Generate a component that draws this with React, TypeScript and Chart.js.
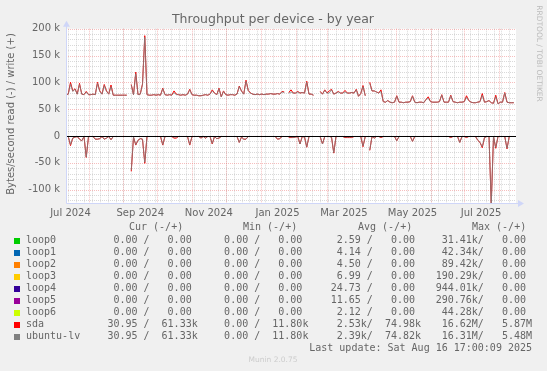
import React, { useEffect, useRef } from 'react';
import { Chart, registerables } from 'chart.js';

Chart.register(...registerables);

// ---------- texts ----------
const TITLE = 'Throughput per device - by year';
const Y_TITLE = 'Bytes/second read (-) / write (+)';
const WATERMARK = 'RRDTOOL / TOBI OETIKER';
const FOOTER = 'Munin 2.0.75';
const LAST_UPDATE = 'Last update: Sat Aug 16 17:00:09 2025';
const HEADERS = ['Cur (-/+)', 'Min (-/+)', 'Avg (-/+)', 'Max (-/+)'];

// ---------- time axis (days counted from 2024-07-12, graph start) ----------
const RANGE_DAYS = 400;
const STEP_DAYS = 2;
const FIRST_SUNDAY_DAY = 2;
const monthStartDays = [20, 51, 81, 112, 142, 173, 204, 232, 263, 293, 324, 354, 385];
const xLabelDays = [4, 66, 127, 188, 247, 308, 369];
const xLabels = ['Jul 2024', 'Sep 2024', 'Nov 2024', 'Jan 2025', 'Mar 2025', 'May 2025', 'Jul 2025'];

// ---------- value axis (k bytes/s) ----------
const Y_MIN = -125;
const Y_MAX = 200;
const yLabelTicks = [-100, -50, 0, 50, 100, 150, 200];

// ---------- series, one value per 2 days, k bytes/s ----------
const sdaWrite = [
  77, 78, 100, 84, 88, 78, 98, 78, 77, 83,
  77, 77, 78, 77, 100, 84, 78, 96, 84, 78,
  95, 76, 76, 76, 76, 76, 76, 76, null, 96,
  77, 119, 77, 78, 97, 187, 77, 76, 76, 77,
  76, 77, 76, 89, 77, 76, 77, 76, 84, 78,
  77, 76, 77, 76, 78, 87, 77, 76, 76, 75,
  75, 76, 77, 76, 78, 86, 80, 77, 89, 73,
  84, 77, 76, 77, 77, 76, 78, 93, 84, 78,
  104, 85, 80, 78, 77, 78, 77, 78, 77, 78,
  78, 79, 78, 78, 79, 78, 83, 82, null, 81,
  86, 80, 80, 83, 80, 81, 80, 102, 78, 78,
  76, null, null, 83, 78, 86, 80, 84, 87, 78,
  80, 83, 80, 80, 85, 80, 80, 81, 80, 87,
  74, 79, 94, 75, null, 100, 84, 84, 82, 80,
  86, 64, 63, 66, 63, 62, 63, 75, 63, 63,
  62, 63, 63, 64, 75, 63, 62, 63, 63, 62,
  68, 73, 64, 63, 63, 63, 64, 77, 63, 63,
  63, 76, 64, 63, 62, 63, 63, 64, 75, 66,
  63, 62, 62, 63, 64, 79, 63, 64, 66, 62,
  61, 76, 60, 63, 63, 81, 63, 62, 62, 62,
];

const lvWrite = [
  77, 78, 97, 83, 87, 78, 96, 78, 77, 82,
  77, 77, 78, 77, 98, 83, 78, 94, 83, 78,
  92, 76, 76, 76, 76, 76, 76, 76, null, 95,
  77, 116, 77, 78, 96, 184, 77, 76, 76, 77,
  76, 77, 76, 88, 77, 76, 77, 76, 81, 77,
  77, 76, 77, 76, 78, 86, 77, 76, 76, 75,
  75, 76, 77, 76, 78, 84, 80, 77, 88, 73,
  83, 77, 76, 77, 77, 76, 78, 92, 83, 78,
  102, 84, 80, 78, 77, 78, 77, 78, 77, 78,
  78, 79, 78, 78, 79, 78, 82, 81, null, 80,
  82, 80, 80, 82, 80, 81, 80, 100, 78, 78,
  76, null, null, 82, 78, 85, 80, 80, 86, 78,
  80, 82, 80, 80, 82, 80, 80, 81, 80, 86,
  74, 79, 92, 75, null, 98, 84, 84, 82, 80,
  83, 64, 63, 66, 63, 62, 63, 74, 63, 63,
  62, 63, 63, 64, 74, 63, 62, 63, 63, 62,
  68, 70, 64, 63, 63, 63, 64, 76, 63, 63,
  63, 75, 64, 63, 62, 63, 63, 64, 72, 66,
  63, 62, 62, 63, 64, 76, 63, 64, 66, 62,
  61, 73, 60, 63, 63, 80, 63, 62, 62, 62,
];

const sdaRead = [
  -1, -1, -18, -4, -2, -1, -6, -9, -1, -40,
  -1, -1, -1, -6, -6, -5, -1, -6, -4, -1,
  -7, -1, -1, -1, -1, -1, -1, -1, null, -66,
  -2, -17, -8, -5, -6, -51, -1, -1, -1, -1,
  -1, -1, -1, -17, -1, -1, -1, -1, -4, -4,
  -1, -1, -1, -1, -1, -17, -1, -1, -1, -1,
  -4, -1, -4, -1, -1, -15, -1, -5, -4, -1,
  -1, -1, -1, -1, -1, -1, -1, -12, -2, -6,
  -6, -1, -1, -1, -1, -1, -1, -1, -1, -1,
  -1, -1, -1, -1, -6, -5, -1, -1, null, -3,
  -3, -3, -2, -1, -15, -1, -2, -21, -1, -1,
  -1, null, null, -2, -15, -1, -1, -1, -2, -32,
  -1, -1, -1, -1, -3, -3, -3, -3, -1, -1,
  -1, -1, -20, -1, null, -27, -1, -4, -1, -1,
  -3, -1, -1, -1, -1, -1, -1, -9, -1, -1,
  -1, -1, -1, -1, -10, -1, -1, -1, -1, -1,
  -1, -1, -1, -1, -1, -1, -1, -1, -1, -1,
  -1, -3, -1, -1, -1, -12, -1, -1, -3, -1,
  -1, -1, -1, -8, -12, -22, -3, -1, -1, -127,
  -1, -23, -1, -1, -1, -1, -24, -1, -1, -1,
];

const lvRead = [
  -1, -1, -16, -4, -2, -1, -6, -9, -1, -39,
  -1, -1, -1, -6, -6, -5, -1, -6, -4, -1,
  -7, -1, -1, -1, -1, -1, -1, -1, null, -64,
  -2, -16, -8, -5, -6, -49, -1, -1, -1, -1,
  -1, -1, -1, -16, -1, -1, -1, -1, -2, -2,
  -1, -1, -1, -1, -1, -16, -1, -1, -1, -1,
  -4, -1, -4, -1, -1, -14, -1, -5, -4, -1,
  -1, -1, -1, -1, -1, -1, -1, -12, -2, -6,
  -6, -1, -1, -1, -1, -1, -1, -1, -1, -1,
  -1, -1, -1, -1, -6, -5, -1, -1, null, -2,
  -2, -3, -2, -1, -15, -1, -2, -20, -1, -1,
  -1, null, null, -2, -15, -1, -1, -1, -2, -31,
  -1, -1, -1, -1, -2, -2, -2, -2, -1, -1,
  -1, -1, -19, -1, null, -26, -1, -4, -1, -1,
  -2, -1, -1, -1, -1, -1, -1, -9, -1, -1,
  -1, -1, -1, -1, -10, -1, -1, -1, -1, -1,
  -1, -1, -1, -1, -1, -1, -1, -1, -1, -1,
  -1, -2, -1, -1, -1, -12, -1, -1, -2, -1,
  -1, -1, -1, -8, -12, -20, -3, -1, -1, -127,
  -1, -21, -1, -1, -1, -1, -23, -1, -1, -1,
];

// ---------- legend table (bytes/s) ----------
const devices = ['loop0', 'loop1', 'loop2', 'loop3', 'loop4', 'loop5', 'loop6', 'sda', 'ubuntu-lv'];
const deviceColors = ['#00CC00', '#0066B3', '#FF8000', '#FFCC00', '#330099', '#990099', '#CCFF00', '#FF0000', '#808080'];
const curRead = [0, 0, 0, 0, 0, 0, 0, 30.95, 30.95];
const curWrite = [0, 0, 0, 0, 0, 0, 0, 61330, 61330];
const minRead = [0, 0, 0, 0, 0, 0, 0, 0, 0];
const minWrite = [0, 0, 0, 0, 0, 0, 0, 11800, 11800];
const avgRead = [2.59, 4.14, 4.5, 6.99, 24.73, 11.65, 2.12, 2530, 2390];
const avgWrite = [0, 0, 0, 0, 0, 0, 0, 74980, 74820];
const maxRead = [31410, 42340, 89420, 190290, 944010, 290760, 44280, 16620000, 16310000];
const maxWrite = [0, 0, 0, 0, 0, 0, 0, 5870000, 5480000];

// ---------- styling ----------
const FONT_COLOR = '#666666';
const AXIS_COLOR = '#CFD6F8';
const MINOR_GRID = 'rgba(170,170,170,0.45)';
const MAJOR_GRID = 'rgba(235,110,110,0.45)';
const SANS = '"DejaVu Sans", sans-serif';
const MONO = '"DejaVu Sans Mono", monospace';

const toPoints = (vals: (number | null)[]) => vals.map((v, i) => ({ x: i * STEP_DAYS, y: v }));

const fmt = (v: number) => {
  let num = v;
  let suf = ' ';
  if (Math.abs(v) >= 1e6) { num = v / 1e6; suf = 'M'; }
  else if (Math.abs(v) >= 1e3) { num = v / 1e3; suf = 'k'; }
  return num.toFixed(2).padStart(7, ' ') + suf;
};
const seg = (r: number, w: number) => fmt(r) + '/' + fmt(w);

const muninPlugin = {
  id: 'muninDecor',
  beforeDraw(chart: any) {
    const { ctx, chartArea: a, width, height } = chart;
    const xs = chart.scales.x;
    const ys = chart.scales.y;
    ctx.save();
    ctx.fillStyle = '#F0F0F0';
    ctx.fillRect(0, 0, width, height);
    ctx.fillStyle = '#FFFFFF';
    ctx.fillRect(a.left, a.top, a.right - a.left, a.bottom - a.top);

    ctx.lineWidth = 1;
    ctx.setLineDash([1, 1]);
    const hline = (v: number) => {
      const y = Math.round(ys.getPixelForValue(v)) + 0.5;
      ctx.beginPath(); ctx.moveTo(a.left, y); ctx.lineTo(a.right, y); ctx.stroke();
    };
    const vline = (d: number) => {
      const x = Math.round(xs.getPixelForValue(d)) + 0.5;
      ctx.beginPath(); ctx.moveTo(x, a.top); ctx.lineTo(x, a.bottom); ctx.stroke();
    };
    ctx.strokeStyle = MINOR_GRID;
    for (let v = -120; v <= Y_MAX; v += 10) if (v % 50 !== 0) hline(v);
    for (let d = FIRST_SUNDAY_DAY; d < RANGE_DAYS; d += 7) vline(d);
    ctx.strokeStyle = MAJOR_GRID;
    for (const v of yLabelTicks) hline(v);
    for (const d of monthStartDays) vline(d);
    ctx.restore();
  },
  afterDatasetsDraw(chart: any) {
    const { ctx, chartArea: a } = chart;
    const ys = chart.scales.y;
    ctx.save();
    const y0 = Math.round(ys.getPixelForValue(0)) + 0.5;
    ctx.strokeStyle = '#000000';
    ctx.lineWidth = 1;
    ctx.beginPath(); ctx.moveTo(a.left, y0); ctx.lineTo(a.right, y0); ctx.stroke();
    ctx.strokeStyle = AXIS_COLOR;
    ctx.fillStyle = AXIS_COLOR;
    const bx = Math.round(a.left) + 0.5;
    const by = Math.round(a.bottom) + 0.5;
    ctx.beginPath(); ctx.moveTo(bx, by); ctx.lineTo(a.right + 3, by); ctx.stroke();
    ctx.beginPath(); ctx.moveTo(bx, by); ctx.lineTo(bx, a.top - 3); ctx.stroke();
    ctx.beginPath();
    ctx.moveTo(a.right + 2, by - 3.5); ctx.lineTo(a.right + 8, by); ctx.lineTo(a.right + 2, by + 3.5);
    ctx.closePath(); ctx.fill();
    ctx.beginPath();
    ctx.moveTo(bx - 3.5, a.top - 2); ctx.lineTo(bx, a.top - 8); ctx.lineTo(bx + 3.5, a.top - 2);
    ctx.closePath(); ctx.fill();
    ctx.restore();
  },
  afterDraw(chart: any) {
    const { ctx } = chart;
    ctx.save();
    ctx.fillStyle = FONT_COLOR;
    ctx.font = `12.5px ${SANS}`;
    ctx.textAlign = 'center';
    ctx.textBaseline = 'middle';
    ctx.fillText(TITLE, 273, 19.5);
    ctx.save();
    ctx.translate(11, 114);
    ctx.rotate(-Math.PI / 2);
    ctx.font = `10px ${SANS}`;
    ctx.fillText(Y_TITLE, 0, 0);
    ctx.restore();
    ctx.save();
    ctx.translate(539, 53.5);
    ctx.rotate(Math.PI / 2);
    ctx.font = `7.5px ${SANS}`;
    ctx.fillStyle = '#BBBBBB';
    ctx.fillText(WATERMARK, 0, 0);
    ctx.restore();
    ctx.font = `10px ${MONO}`;
    ctx.textAlign = 'left';
    const headerX = [129, 243, 358, 472];
    HEADERS.forEach((h, i) => ctx.fillText(h, headerX[i], 227.5));
    const segRight = [197.7, 308.4, 421, 532];
    devices.forEach((name, i) => {
      const yc = 240.5 + i * 12;
      ctx.fillStyle = deviceColors[i];
      ctx.fillRect(14, Math.round(yc) - 3, 6, 6);
      ctx.fillStyle = FONT_COLOR;
      ctx.textAlign = 'left';
      ctx.fillText(name, 26, yc);
      ctx.textAlign = 'right';
      ctx.fillText(seg(curRead[i], curWrite[i]), segRight[0], yc);
      ctx.fillText(seg(minRead[i], minWrite[i]), segRight[1], yc);
      ctx.fillText(seg(avgRead[i], avgWrite[i]), segRight[2], yc);
      ctx.fillText(seg(maxRead[i], maxWrite[i]), segRight[3], yc);
    });
    ctx.textAlign = 'right';
    ctx.fillText(LAST_UPDATE, 532, 348.5);
    ctx.textAlign = 'center';
    ctx.font = `7.5px ${SANS}`;
    ctx.fillStyle = '#CCCCCC';
    ctx.fillText(FOOTER, 273, 360.5);
    ctx.restore();
  },
};

export default function App() {
  const ref = useRef<HTMLCanvasElement>(null);
  useEffect(() => {
    const lineDs = (label: string, data: (number | null)[], color: string, order: number) => ({
      label,
      data: toPoints(data),
      borderColor: color,
      backgroundColor: color,
      borderWidth: 1,
      pointRadius: 0,
      tension: 0,
      fill: false,
      spanGaps: false,
      order,
    });
    const chart = new Chart(ref.current as HTMLCanvasElement, {
      type: 'line',
      data: {
        datasets: [
          lineDs('ubuntu-lv write', lvWrite, 'rgba(128,128,128,0.8)', 0),
          lineDs('ubuntu-lv read', lvRead, 'rgba(128,128,128,0.8)', 0),
          lineDs('sda write', sdaWrite, '#FF0000', 1),
          lineDs('sda read', sdaRead, '#FF0000', 1),
        ],
      },
      plugins: [muninPlugin],
      options: {
        responsive: false,
        animation: false,
        events: [],
        layout: { padding: { left: 0, right: 31, top: 28.7, bottom: 0 } },
        plugins: {
          legend: { display: false },
          tooltip: { enabled: false },
          title: { display: false },
        },
        scales: {
          x: {
            type: 'linear',
            min: 0,
            max: RANGE_DAYS,
            grid: { display: false, drawTicks: false },
            border: { display: false },
            afterFit: (s: any) => { s.height = 168; },
            afterBuildTicks: (s: any) => { s.ticks = xLabelDays.map((v) => ({ value: v })); },
            ticks: {
              autoSkip: false,
              maxRotation: 0,
              minRotation: 0,
              padding: 4,
              color: FONT_COLOR,
              font: { family: SANS, size: 10 },
              callback: (_v: any, i: number) => xLabels[i],
            },
          },
          y: {
            type: 'linear',
            min: Y_MIN,
            max: Y_MAX,
            grid: { display: false, drawTicks: false },
            border: { display: false },
            afterFit: (s: any) => { s.width = 66; },
            afterBuildTicks: (s: any) => { s.ticks = yLabelTicks.map((v) => ({ value: v })); },
            ticks: {
              padding: 6,
              color: FONT_COLOR,
              font: { family: SANS, size: 10 },
              callback: (v: any) => (Number(v) === 0 ? '0' : `${v} k`),
            },
          },
        },
      } as any,
    });
    return () => chart.destroy();
  }, []);
  return (
    <div style={{ position: 'fixed', left: 0, top: 0, width: 547, height: 371, background: '#F0F0F0' }}>
      <canvas ref={ref} width={547} height={371} style={{ display: 'block', width: 547, height: 371 }} />
    </div>
  );
}
